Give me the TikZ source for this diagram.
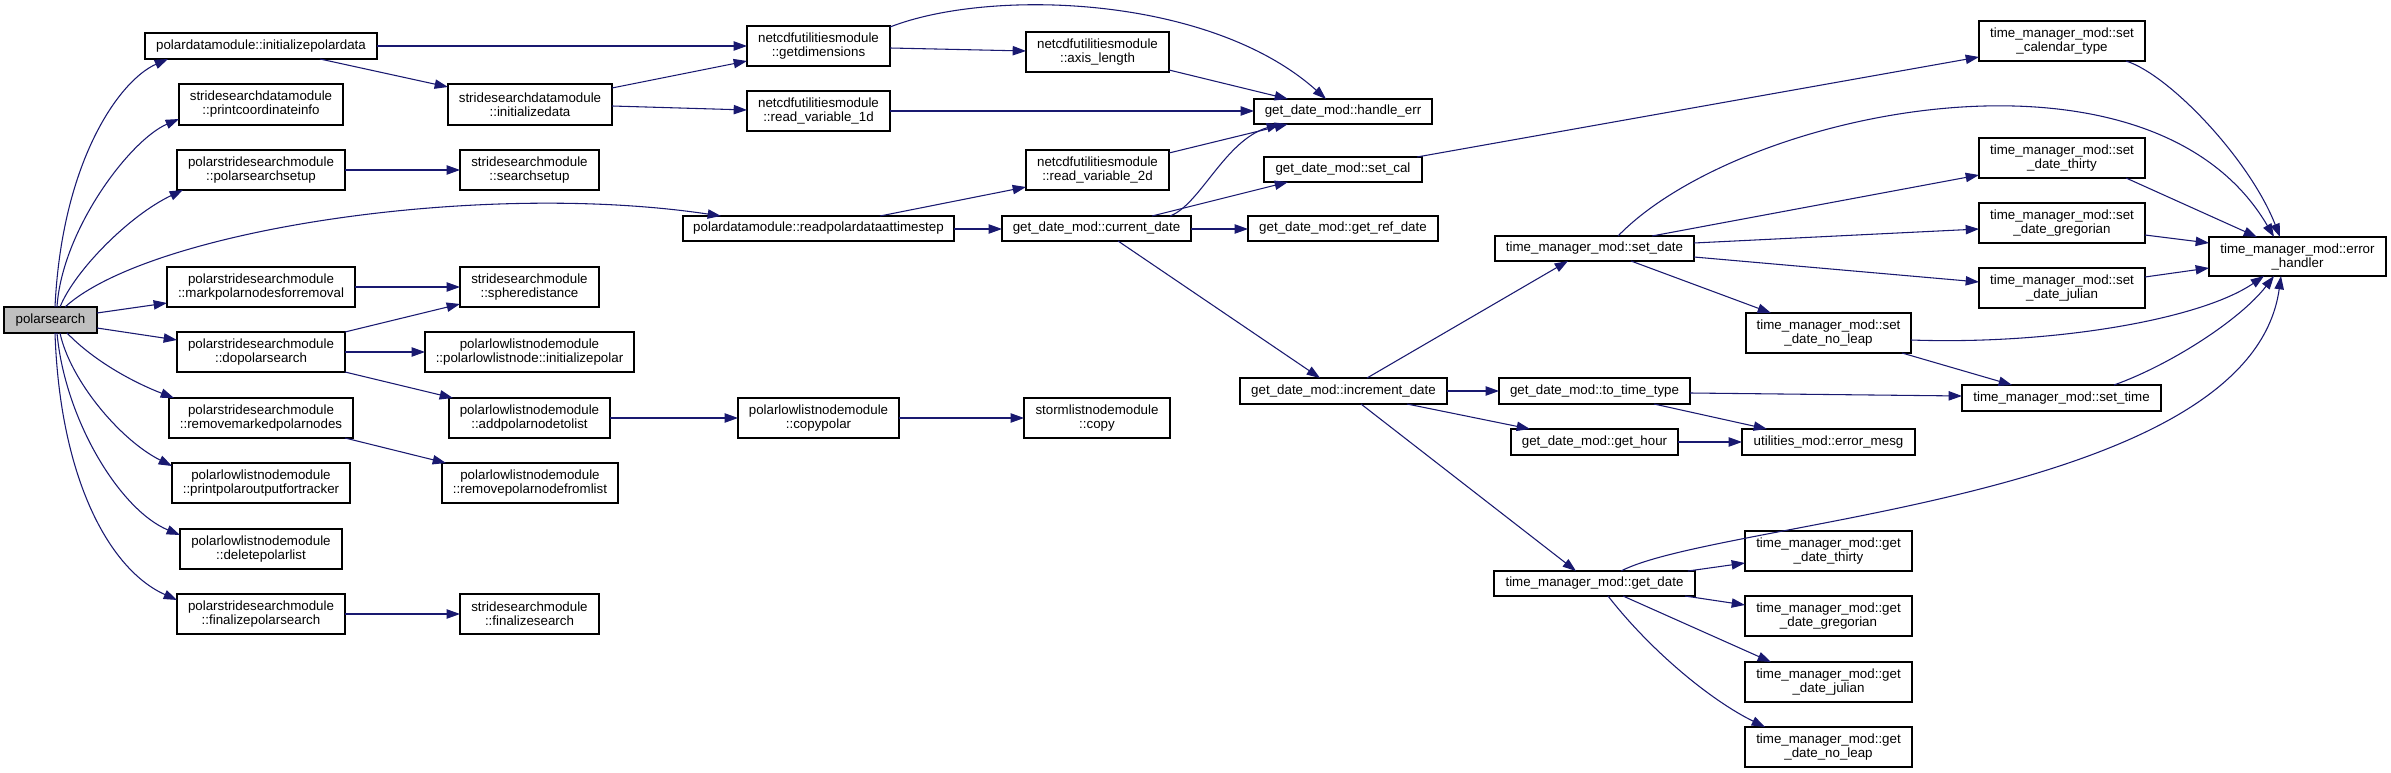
\documentclass[tikz,border=0pt]{standalone}
\usepackage{fontspec}
\setmainfont{Liberation Sans}
\usetikzlibrary{arrows.meta}
\definecolor{mblue}{HTML}{191970}
\definecolor{rootgrey}{HTML}{BFBFBF}
\tikzset{
  box/.style={draw=black, line width=0.9pt, fill=white, inner sep=0pt, outer sep=0pt, align=center,
    font=\fontsize{10}{10.5}\selectfont},
  rootbox/.style={box, fill=rootgrey},
  edge/.style={draw=mblue, line width=0.8pt, -{Triangle[length=10pt,width=7pt]}}
}
\newcommand\gnode[7][box]{\node[#1, minimum width={(#5-#3)*0.75pt}, minimum height={(#6-#4)*0.75pt}] (#2) at ({(#3+#5)/2},{(#4+#6)/2}) {#7};}
\newcommand\gedge[6]{\draw[edge] ([shift={(#2,#3)}]#1.north west) -- ([shift={(#5,#6)}]#4.north west);}
\begin{document}
\begin{tikzpicture}[x=0.75pt,y=-0.75pt]
\fill[white] (0,0) rectangle (2391,773);
\useasboundingbox (0,0) rectangle (2391,773);
% nodes
\gnode[rootbox]{ps}{4}{307}{97}{333}{polarsearch}
\gnode{ipd}{145}{33}{377}{59}{polardatamodule::initializepolardata}
\gnode{pci}{179}{84}{343}{125}{stridesearchdatamodule\\::printcoordinateinfo}
\gnode{pss}{177}{150}{345}{190}{polarstridesearchmodule\\::polarsearchsetup}
\gnode{mpn}{167}{267}{355}{307}{polarstridesearchmodule\\::markpolarnodesforremoval}
\gnode{dps}{177}{332}{345}{372}{polarstridesearchmodule\\::dopolarsearch}
\gnode{rmp}{169}{398}{353}{438}{polarstridesearchmodule\\::removemarkedpolarnodes}
\gnode{ppo}{172}{463}{350}{503}{polarlowlistnodemodule\\::printpolaroutputfortracker}
\gnode{dpl}{180}{529}{342}{569}{polarlowlistnodemodule\\::deletepolarlist}
\gnode{fps}{177}{594}{345}{634}{polarstridesearchmodule\\::finalizepolarsearch}
\gnode{ida}{448}{84}{612}{125}{stridesearchdatamodule\\::initializedata}
\gnode{ssu}{460}{150}{599}{190}{stridesearchmodule\\::searchsetup}
\gnode{sph}{460}{267}{599}{307}{stridesearchmodule\\::spheredistance}
\gnode{inp}{425}{332}{634}{372}{polarlowlistnodemodule\\::polarlowlistnode::initializepolar}
\gnode{apn}{449}{398}{610}{438}{polarlowlistnodemodule\\::addpolarnodetolist}
\gnode{rpn}{442}{463}{618}{503}{polarlowlistnodemodule\\::removepolarnodefromlist}
\gnode{fsr}{460}{594}{599}{634}{stridesearchmodule\\::finalizesearch}
\gnode{rpd}{683}{216}{954}{241}{polardatamodule::readpolardataattimestep}
\gnode{gdi}{747}{26}{890}{66}{netcdfutilitiesmodule\\::getdimensions}
\gnode{rv1}{747}{91}{890}{131}{netcdfutilitiesmodule\\::read\_variable\_1d}
\gnode{axl}{1026}{32}{1169}{72}{netcdfutilitiesmodule\\::axis\_length}
\gnode{rv2}{1026}{150}{1169}{190}{netcdfutilitiesmodule\\::read\_variable\_2d}
\gnode{cpl}{738}{398}{899}{438}{polarlowlistnodemodule\\::copypolar}
\gnode{cpy}{1024}{398}{1170}{438}{stormlistnodemodule\\::copy}
\gnode{cud}{1002}{216}{1191}{241}{get\_date\_mod::current\_date}
\gnode{her}{1254}{99}{1432}{124}{get\_date\_mod::handle\_err}
\gnode{scl}{1264}{157}{1422}{182}{get\_date\_mod::set\_cal}
\gnode{grd}{1248}{216}{1438}{241}{get\_date\_mod::get\_ref\_date}
\gnode{inc}{1240}{378}{1447}{404}{get\_date\_mod::increment\_date}
\gnode{sdt}{1495}{236}{1694}{261}{time\_manager\_mod::set\_date}
\gnode{ttt}{1499}{378}{1690}{404}{get\_date\_mod::to\_time\_type}
\gnode{gho}{1511}{429}{1678}{455}{get\_date\_mod::get\_hour}
\gnode{gdt}{1494}{571}{1695}{596}{time\_manager\_mod::get\_date}
\gnode{snl}{1746}{313}{1911}{353}{time\_manager\_mod::set\\\_date\_no\_leap}
\gnode{erm}{1742}{429}{1915}{455}{utilities\_mod::error\_mesg}
\gnode{gth}{1745}{531}{1912}{571}{time\_manager\_mod::get\\\_date\_thirty}
\gnode{ggr}{1745}{596}{1912}{636}{time\_manager\_mod::get\\\_date\_gregorian}
\gnode{gju}{1745}{662}{1912}{702}{time\_manager\_mod::get\\\_date\_julian}
\gnode{gnl}{1745}{727}{1912}{767}{time\_manager\_mod::get\\\_date\_no\_leap}
\gnode{sct}{1979}{21}{2145}{61}{time\_manager\_mod::set\\\_calendar\_type}
\gnode{sth}{1979}{138}{2145}{178}{time\_manager\_mod::set\\\_date\_thirty}
\gnode{sgr}{1979}{203}{2145}{243}{time\_manager\_mod::set\\\_date\_gregorian}
\gnode{sju}{1979}{268}{2145}{308}{time\_manager\_mod::set\\\_date\_julian}
\gnode{eh}{2209}{237}{2386}{276}{time\_manager\_mod::error\\\_handler}
\gnode{stm}{1962}{385}{2161}{411}{time\_manager\_mod::set\_time}
% curved edges from polarsearch
\draw[edge] ([shift={(51,0)}]ps.north west) .. controls (62,160) and (120,80) .. ([shift={(23,26)}]ipd.north west);
\draw[edge] ([shift={(53,0)}]ps.north west) .. controls (62,230) and (130,140) .. ([shift={(0,35)}]pci.north west);
\draw[edge] ([shift={(56,0)}]ps.north west) .. controls (75,270) and (130,215) .. ([shift={(6,40)}]pss.north west);
\draw[edge] ([shift={(61,0)}]ps.north west) .. controls (150,230) and (480,180) .. ([shift={(38,0)}]rpd.north west);
\draw[edge] ([shift={(63,26)}]ps.north west) .. controls (95,362) and (135,383) .. ([shift={(5,0)}]rmp.north west);
\draw[edge] ([shift={(56,26)}]ps.north west) .. controls (70,380) and (120,440) .. ([shift={(0,3)}]ppo.north west);
\draw[edge] ([shift={(53,26)}]ps.north west) .. controls (65,420) and (120,510) .. ([shift={(0,6)}]dpl.north west);
\draw[edge] ([shift={(51,26)}]ps.north west) .. controls (60,480) and (110,570) .. ([shift={(0,6)}]fps.north west);
% straight edges
\gedge{ps}{93}{6}{mpn}{0}{36}
\gedge{ps}{93}{21}{dps}{0}{8}
\gedge{ipd}{232}{13}{gdi}{0}{20}
\gedge{ipd}{175}{26}{ida}{0}{3}
\gedge{ida}{164}{4}{gdi}{0}{35}
\gedge{ida}{164}{22}{rv1}{0}{19}
\gedge{gdi}{143}{22}{axl}{0}{19}
\gedge{axl}{143}{38}{her}{34}{0}
\gedge{rv1}{143}{20}{her}{0}{12}
\gedge{rv2}{143}{3}{her}{34}{25}
\gedge{rpd}{197}{0}{rv2}{0}{37}
\gedge{rpd}{271}{13}{cud}{0}{13}
\gedge{cud}{150}{0}{scl}{24}{25}
\gedge{cud}{189}{13}{grd}{0}{13}
\gedge{cud}{116}{25}{inc}{80}{0}
\gedge{scl}{153}{0}{sct}{0}{36}
\gedge{sdt}{157}{0}{sth}{0}{37}
\gedge{sdt}{199}{7}{sgr}{0}{26}
\gedge{sdt}{199}{21}{sju}{0}{14}
\gedge{sdt}{136}{25}{snl}{25}{0}
\gedge{sth}{147}{40}{eh}{48}{0}
\gedge{sgr}{166}{32}{eh}{0}{6}
\gedge{sju}{166}{9}{eh}{0}{31}
\gedge{snl}{156}{40}{stm}{50}{0}
\gedge{ttt}{191}{15}{stm}{0}{11}
\gedge{ttt}{155}{26}{erm}{25}{0}
\gedge{inc}{127}{0}{sdt}{73}{25}
\gedge{inc}{207}{13}{ttt}{0}{13}
\gedge{inc}{167}{26}{gho}{19}{0}
\gedge{inc}{121}{26}{gdt}{82}{0}
\gedge{gho}{167}{13}{erm}{0}{13}
\gedge{gdt}{194}{0}{gth}{0}{32}
\gedge{gdt}{191}{25}{ggr}{0}{9}
\gedge{gdt}{129}{25}{gju}{26}{0}
\gedge{dps}{168}{0}{sph}{0}{37}
\gedge{dps}{168}{20}{inp}{0}{20}
\gedge{dps}{168}{40}{apn}{4}{0}
\gedge{mpn}{188}{20}{sph}{0}{20}
\gedge{pss}{168}{20}{ssu}{0}{20}
\gedge{rmp}{176}{40}{rpn}{4}{0}
\gedge{fps}{168}{20}{fsr}{0}{20}
\gedge{apn}{161}{20}{cpl}{0}{20}
\gedge{cpl}{161}{20}{cpy}{0}{20}
% other curved edges
\draw[edge] ([shift={(143,1)}]gdi.north west) .. controls (990,-12) and (1210,-5) .. ([shift={(72,0)}]her.north west);
\draw[edge] ([shift={(168,0)}]cud.north west) .. controls (1200,205) and (1225,140) .. ([shift={(26,25)}]her.north west);
\draw[edge] ([shift={(123,0)}]sdt.north west) .. controls (1740,110) and (2150,25) .. ([shift={(65,0)}]eh.north west);
\draw[edge] ([shift={(147,40)}]sct.north west) .. controls (2170,75) and (2250,160) .. ([shift={(71,0)}]eh.north west);
\draw[edge] ([shift={(165,27)}]snl.north west) .. controls (2050,345) and (2200,320) .. ([shift={(55,39)}]eh.north west);
\draw[edge] ([shift={(152,0)}]stm.north west) .. controls (2170,365) and (2240,320) .. ([shift={(65,39)}]eh.north west);
\draw[edge] ([shift={(127,0)}]gdt.north west) .. controls (1720,520) and (2250,500) .. ([shift={(72,39)}]eh.north west);
\draw[edge] ([shift={(114,25)}]gdt.north west) .. controls (1650,650) and (1710,700) .. ([shift={(20,0)}]gnl.north west);
\end{tikzpicture}
\end{document}
